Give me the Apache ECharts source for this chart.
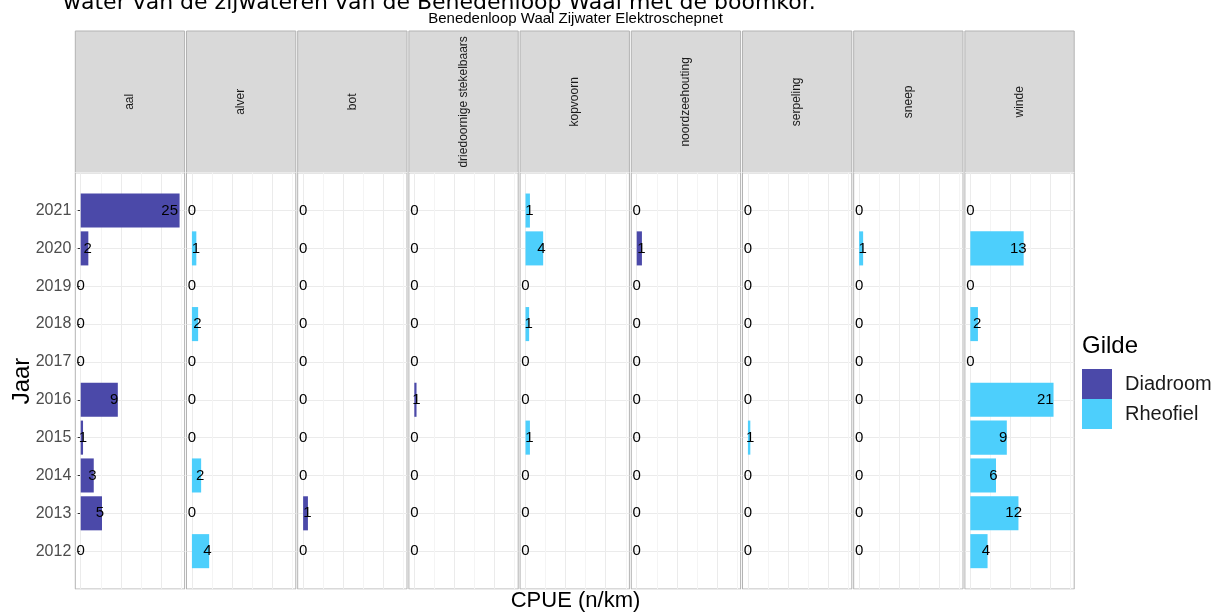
<!DOCTYPE html>
<html lang="nl">
<head>
<meta charset="UTF-8">
<title>CPUE Benedenloop Waal Zijwater</title>
<script src="https://cdn.jsdelivr.net/npm/echarts@6/dist/echarts.min.js"></script>
<style>
    html, body { margin: 0; padding: 0; background: #fff; }
    #chart { width: 1225px; height: 615px; }
</style>
</head>
<body>
<div id="chart"></div>
<script>
    // jaren van onder naar boven
    var years = ['2012', '2013', '2014', '2015', '2016', '2017', '2018', '2019', '2020', '2021'];
    var species = ['aal', 'alver', 'bot', 'driedoornige stekelbaars', 'kopvoorn',
        'noordzeehouting', 'serpeling', 'sneep', 'winde'];
    var guilds = ['Diadroom', 'Rheofiel', 'Diadroom', 'Diadroom', 'Rheofiel',
        'Diadroom', 'Rheofiel', 'Rheofiel', 'Rheofiel'];

    // CPUE (n/km) per soort, 2012 .. 2021
    var aal             = [0, 5.3, 3.25, 0.58, 9.25, 0, 0, 0, 1.9, 24.65];
    var alver           = [4.3, 0, 2.3, 0, 0, 0, 1.55, 0, 1.1, 0];
    var bot             = [0, 1.2, 0, 0, 0, 0, 0, 0, 0, 0];
    var driedoornige    = [0, 0, 0, 0, 0.55, 0, 0, 0, 0, 0];
    var kopvoorn        = [0, 0, 0, 1.1, 0, 0, 0.9, 0, 4.4, 1.1];
    var noordzeehouting = [0, 0, 0, 0, 0, 0, 0, 0, 1.3, 0];
    var serpeling       = [0, 0, 0, 0.6, 0, 0, 0, 0, 0, 0];
    var sneep           = [0, 0, 0, 0, 0, 0, 0, 0, 1.0, 0];
    var winde           = [4.3, 12.0, 6.4, 9.1, 20.75, 0, 1.9, 0, 13.3, 0];
    var cpue = [aal, alver, bot, driedoornige, kopvoorn, noordzeehouting, serpeling, sneep, winde];

    var gridBreaks = [0, 5, 10, 15, 20, 25];
    var guildColors = {Diadroom: '#4b49a9', Rheofiel: '#4dcffc'};

    var FONT = '"Liberation Sans", Arial, sans-serif';
    var panelLeft = 75.3, panelPitch = 111.2, panelWidth = 109.3;
    var panelTop = 172.7, panelHeight = 416.3, stripTop = 31;
    var yCats = [''].concat(years, ['']);

    var grids = [], xAxes = [], yAxes = [], series = [], graphics = [];

    species.forEach(function (sp, i) {
        var left = panelLeft + i * panelPitch;
        grids.push({
            left: left, top: panelTop, width: panelWidth, height: panelHeight,
            show: true, backgroundColor: '#fff', borderColor: '#b3b3b3', borderWidth: 1
        });
        xAxes.push({
            type: 'value', gridIndex: i, min: -1.35, max: 25.9,
            axisLine: {show: false}, axisTick: {show: false},
            axisLabel: {show: false}, splitLine: {show: false}
        });
        yAxes.push({
            type: 'category', gridIndex: i, data: yCats, boundaryGap: false,
            axisLine: {show: false},
            axisTick: {
                show: i === 0, length: 3, lineStyle: {color: '#333'},
                interval: function (idx, v) { return v !== ''; }
            },
            axisLabel: {
                show: i === 0, fontSize: 16, color: '#4d4d4d', fontFamily: FONT, margin: 4
            },
            splitLine: {show: true, lineStyle: {color: '#ebebeb', width: 1}}
        });
        series.push({
            type: 'bar', name: guilds[i], xAxisIndex: i, yAxisIndex: i,
            barWidth: '90%',
            itemStyle: {color: guildColors[guilds[i]]},
            data: cpue[i].map(function (v, j) { return [v, years[j]]; }),
            label: {
                show: true, position: ['90%', '50%'], align: 'center', verticalAlign: 'middle',
                fontSize: 15, color: '#000', fontFamily: FONT,
                formatter: function (p) { return Math.round(p.value[0]); }
            },
            markLine: {
                silent: true, symbol: ['none', 'none'], z: 1, animation: false,
                label: {show: false},
                data: gridBreaks.map(function (b) {
                    return {xAxis: b, lineStyle: {type: 'solid', width: 1,
                        color: b % 10 === 0 ? '#ebebeb' : '#f4f4f4'}};
                })
            }
        });
        // strip met soortnaam
        graphics.push({
            type: 'rect', silent: true,
            shape: {x: left, y: stripTop, width: panelWidth, height: panelTop - stripTop},
            style: {fill: '#d9d9d9', stroke: '#b3b3b3', lineWidth: 1}
        });
        graphics.push({
            type: 'text', silent: true,
            x: left + panelWidth / 2, y: (stripTop + panelTop) / 2, rotation: Math.PI / 2,
            style: {text: sp, fill: '#1a1a1a', font: '12px ' + FONT, align: 'center', verticalAlign: 'middle'}
        });
    });

    graphics.push({
        type: 'text', silent: true, x: 63, y: 3.5,
        style: {text: 'water van de zijwateren van de Benedenloop Waal met de boomkor.',
            fill: '#000', font: '22px "DejaVu Sans", Verdana, sans-serif', verticalAlign: 'middle'}
    });
    graphics.push({
        type: 'text', silent: true, x: 575.5, y: 19,
        style: {text: 'Benedenloop Waal Zijwater Elektroschepnet', fill: '#000',
            font: '15px ' + FONT, align: 'center', verticalAlign: 'middle'}
    });
    graphics.push({
        type: 'text', silent: true, x: 575.5, y: 601,
        style: {text: 'CPUE (n/km)', fill: '#000', font: '22px ' + FONT, align: 'center', verticalAlign: 'middle'}
    });
    graphics.push({
        type: 'text', silent: true, x: 22, y: 381, rotation: Math.PI / 2,
        style: {text: 'Jaar', fill: '#000', font: '24px ' + FONT, align: 'center', verticalAlign: 'middle'}
    });
    graphics.push({
        type: 'text', silent: true, x: 1082, y: 346,
        style: {text: 'Gilde', fill: '#000', font: '24px ' + FONT, verticalAlign: 'middle'}
    });

    var myChart = echarts.init(document.getElementById('chart'));
    myChart.setOption({
        animation: false,
        grid: grids,
        xAxis: xAxes,
        yAxis: yAxes,
        series: series,
        legend: {
            data: ['Diadroom', 'Rheofiel'], orient: 'vertical', padding: 0,
            left: 1082, top: 369, itemWidth: 30, itemHeight: 30, itemGap: 0, icon: 'rect',
            selectedMode: false,
            textStyle: {fontSize: 20, color: '#1a1a1a', fontFamily: FONT, padding: [0, 0, 0, 8]}
        },
        graphic: graphics
    });
</script>
</body>
</html>
